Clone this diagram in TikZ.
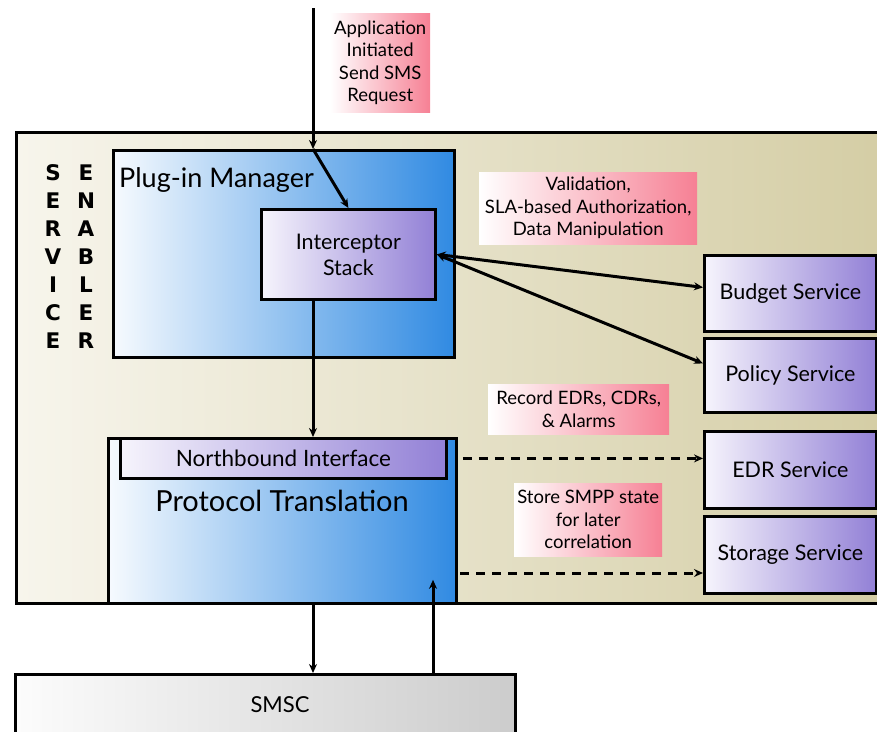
\documentclass[tikz,border=0pt]{standalone}
\usepackage{fontspec}
\setmainfont{Lato}
\newfontfamily\heavyfont{DejaVu Sans}
\usetikzlibrary{arrows.meta,calc}
\definecolor{beigeL}{RGB}{247,245,236}
\definecolor{beigeR}{RGB}{212,205,164}
\definecolor{blueL}{RGB}{246,250,254}
\definecolor{blueR}{RGB}{48,138,226}
\definecolor{purpL}{RGB}{246,244,252}
\definecolor{purpR}{RGB}{146,128,214}
\definecolor{pinkL}{RGB}{255,255,255}
\definecolor{pinkR}{RGB}{246,128,148}
\definecolor{greyL}{RGB}{252,252,252}
\definecolor{greyR}{RGB}{204,204,204}
\tikzset{
  box/.style={draw=black, line width=2.8pt, inner sep=0pt, anchor=north west},
  bluebox/.style={box, left color=blueL, right color=blueR},
  purpbox/.style={box, left color=purpL, right color=purpR, font=\fontsize{21.5}{26}\selectfont, align=center},
  pinklabel/.style={inner sep=0pt, anchor=north west, left color=pinkL, right color=pinkR, font=\fontsize{18.5}{22.5}\selectfont, align=center},
  conn/.style={line width=3pt, -{Stealth[length=9pt,width=8pt]}},
  dconn/.style={line width=3pt, {Stealth[length=9pt,width=8pt]}-{Stealth[length=9pt,width=8pt]}},
  dashconn/.style={line width=3pt, dash pattern=on 9pt off 7pt, -{Stealth[length=9pt,width=8pt]}},
  vletters/.style={font=\heavyfont\bfseries\fontsize{21.5}{28}\selectfont, align=center, inner sep=0pt}
}
\begin{document}
\begin{tikzpicture}[x=1pt,y=-1pt]
\useasboundingbox (0,0) rectangle (877,731);
\clip (0,0) rectangle (877,731);
% outer service enabler
\node[box, left color=beigeL, right color=beigeR, minimum width=880pt, minimum height=471pt] (se) at (15,131) {};
\node[vletters] (svc) at (53,257) {S\\E\\R\\V\\I\\C\\E};
\node[vletters] (enb) at (86,257) {E\\N\\A\\B\\L\\E\\R};
% plug-in manager
\node[bluebox, minimum width=341pt, minimum height=207pt] (pm) at (112,149) {};
\node[anchor=west, inner sep=0pt, font=\fontsize{27}{32}\selectfont] (pmlabel) at (119,180) {Plug-in Manager};
\node[purpbox, minimum width=174pt, minimum height=90pt] (ic) at (260,208) {Interceptor\\Stack};
% protocol translation
\node[bluebox, minimum width=348pt, minimum height=165pt] (pt) at (107,437) {};
\node[purpbox, minimum width=326pt, minimum height=40pt, font=\fontsize{22.5}{26}\selectfont] (nb) at (119,437) {Northbound Interface};
\node[inner sep=0pt, font=\fontsize{29}{34}\selectfont] (ptlabel) at (282,501) {Protocol Translation};
% services
\node[purpbox, minimum width=172pt, minimum height=76pt] (budget) at (703,254) {Budget Service};
\node[purpbox, minimum width=172pt, minimum height=74pt] (policy) at (703,337) {Policy Service};
\node[purpbox, minimum width=172pt, minimum height=77pt] (edr) at (703,430) {EDR Service};
\node[purpbox, minimum width=172pt, minimum height=77pt] (storage) at (703,515) {Storage Service};
% SMSC
\node[box, left color=greyL, right color=greyR, minimum width=500pt, minimum height=80pt] (smsc) at (14,673) {};
\node[inner sep=0pt, font=\fontsize{22}{26}\selectfont] (smsclabel) at (280,705) {SMSC};
% labels
\node[pinklabel, minimum width=100pt, minimum height=99pt] (applbl) at (330,13) {Application\\Initiated\\Send SMS\\Request};
\node[pinklabel, minimum width=218pt, minimum height=72pt] (vallbl) at (479,172) {Validation,\\SLA-based Authorization,\\Data Manipulation};
\node[pinklabel, minimum width=181pt, minimum height=50pt] (reclbl) at (488,384) {Record EDRs, CDRs,\\\& Alarms};
\node[pinklabel, minimum width=148pt, minimum height=73pt] (stolbl) at (514,483) {Store SMPP state\\for later\\correlation};
% connectors
\coordinate (top) at (313,8);
\coordinate (up) at (433,0);
\coordinate (d2) at (460,573);
\draw[conn] (top) -- (top |- pm.north);
\draw[conn] (top |- pm.north) -- (ic.north);
\draw[conn] (ic.south -| top) -- (nb.north -| top);
\draw[dconn] (ic.east) -- ([yshift=6pt]budget.west);
\draw[dconn] (ic.east) -- ([yshift=12pt]policy.west);
\draw[dashconn] ([xshift=5pt]pt.east |- nb.east) -- (edr.west |- nb.east);
\draw[dashconn] (d2) -- (d2 -| storage.west);
\draw[conn] (pt.south -| top) -- (smsc.north -| top);
\draw[conn] (smsc.north -| up) -- ([yshift=25pt]pt.south -| up);
\end{tikzpicture}
\end{document}
